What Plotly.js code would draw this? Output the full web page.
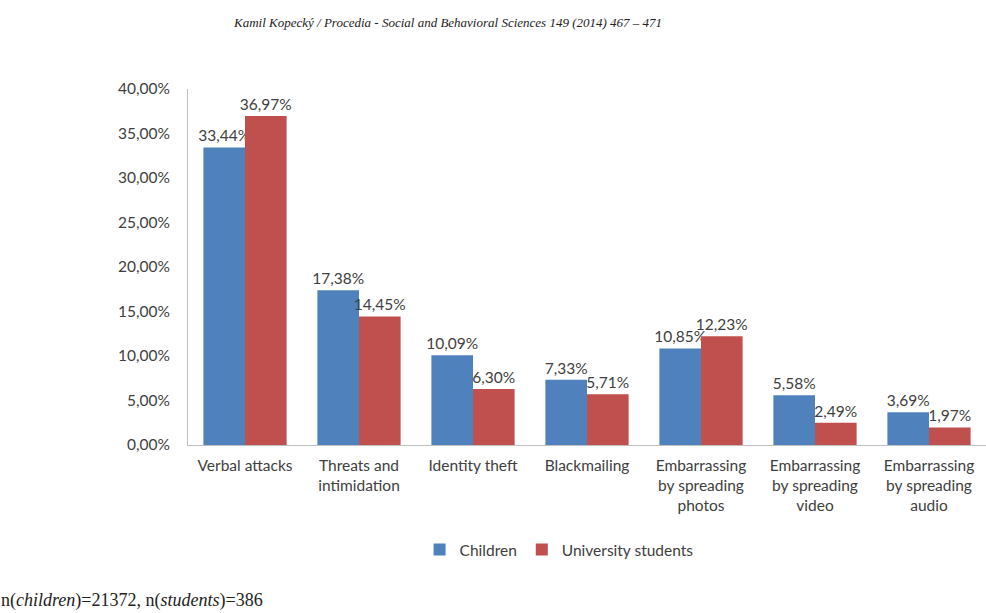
<!DOCTYPE html>
<html>
<head>
<meta charset="utf-8">
<script src="https://cdn.plot.ly/plotly-3.0.1.min.js"></script>
<style>html,body{margin:0;padding:0;background:#fff;}#chart{width:986px;height:613px;}</style>
</head>
<body>
<div id="chart"></div>
<script>
const categories = ["Verbal attacks", "Threats and<br>intimidation", "Identity theft", "Blackmailing",
  "Embarrassing<br>by spreading<br>photos", "Embarrassing<br>by spreading<br>video", "Embarrassing<br>by spreading<br>audio"];
const children = [33.44, 17.38, 10.09, 7.33, 10.85, 5.58, 3.69];
const students = [36.97, 14.45, 6.30, 5.71, 12.23, 2.49, 1.97];
const seriesNames = ["Children", "University students"];
const yTicks = [0, 5, 10, 15, 20, 25, 30, 35, 40];

const font = "Lato, 'Open Sans', sans-serif";
const fs = 15.5;
const mk = (name, y, color) => ({
  type: 'bar', name: name, x: categories, y: y,
  marker: {color: color},
  text: y.map(v => v.toFixed(2).replace('.', ',') + '%'),
  texttemplate: '%{text}',
  textposition: 'outside', constraintext: 'none', cliponaxis: false,
  textfont: {family: font, size: fs, color: '#404040'}
});
const data = [mk(seriesNames[0], children, '#4f81bd'), mk(seriesNames[1], students, '#c0504d')];

const layout = {
  width: 986, height: 613,
  margin: {l: 188, r: 0, t: 89, b: 168},
  paper_bgcolor: '#fff', plot_bgcolor: '#fff',
  barmode: 'group', bargap: 0.27, bargroupgap: 0,
  font: {family: font, size: fs, color: '#404040'},
  showlegend: true,
  legend: {orientation: 'h', x: 0.465, xanchor: 'center', y: -0.295, yanchor: 'middle',
    font: {family: font, size: fs, color: '#404040'}, itemwidth: 30, itemsizing: 'constant', tracegroupgap: 0},
  xaxis: {showline: true, linecolor: '#bfbfbf', linewidth: 1, showgrid: false, ticks: '',
    tickfont: {family: font, size: fs, color: '#404040'}, fixedrange: true, ticklabelstandoff: 6},
  yaxis: {range: [0, 40], tickvals: yTicks, ticktext: yTicks.map(v => v.toFixed(2).replace('.', ',') + '%'),
    showline: true, linecolor: '#bfbfbf', linewidth: 1, showgrid: false, zeroline: false, ticks: '',
    tickfont: {family: font, size: fs, color: '#404040'}, ticklabelstandoff: 14},
  annotations: [
    {text: '<i>Kamil Kopecký / Procedia - Social and Behavioral Sciences 149 (2014) 467 – 471</i>',
     xref: 'paper', yref: 'paper', x: (231 - 188) / 798, y: (445 - 22) / 356, xanchor: 'left', yanchor: 'middle',
     showarrow: false, font: {family: "'Liberation Serif', serif", size: 13, color: '#222'}},
    {text: 'n(<i>children</i>)=21372, n(<i>students</i>)=386',
     xref: 'paper', yref: 'paper', x: (0 - 188) / 798, y: (445 - 612) / 356, xanchor: 'left', yanchor: 'bottom',
     showarrow: false, borderpad: 0, font: {family: "'Liberation Serif', serif", size: 18, color: '#222'}}
  ]
};
Plotly.newPlot('chart', data, layout, {displayModeBar: false, staticPlot: true});
</script>
</body>
</html>
